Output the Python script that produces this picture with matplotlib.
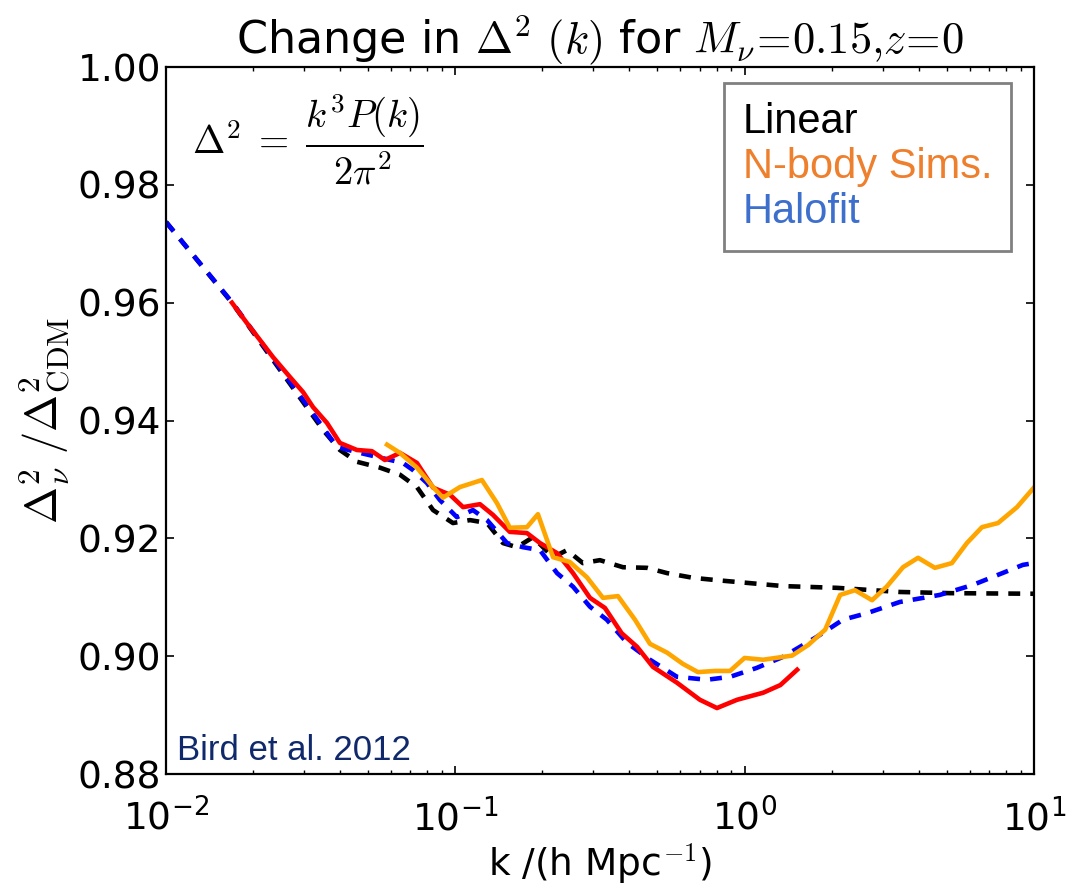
import math
import matplotlib
matplotlib.use("Agg")
import matplotlib.pyplot as plt
from matplotlib.ticker import FixedLocator, FuncFormatter, LogLocator, NullFormatter

plt.rcParams["mathtext.fontset"] = "cm"
plt.rcParams["font.family"] = "DejaVu Sans"

# Linear theory ratio
k_lin = [0.01, 0.0169, 0.0349, 0.0399, 0.0457, 0.0549, 0.0644, 0.0737, 0.0838,
         0.0982, 0.1124, 0.1288, 0.1462, 0.1634, 0.1857, 0.2178, 0.2433, 0.2762,
         0.3162, 0.380, 0.460, 0.540, 0.664, 0.803, 1.045, 1.36, 2.09, 3.44,
         5.13, 10.0]
r_lin = [0.9737, 0.9600, 0.9384, 0.9350, 0.9330, 0.9320, 0.9308, 0.9287, 0.9248,
         0.9226, 0.9231, 0.9226, 0.9192, 0.9185, 0.9202, 0.9168, 0.9180, 0.9158,
         0.9163, 0.9151, 0.9150, 0.9141, 0.9133, 0.9129, 0.9124, 0.9119, 0.9116,
         0.9109, 0.9107, 0.9106]

# Halofit ratio
k_hf = [0.01, 0.0169, 0.0340, 0.0390, 0.0469, 0.0562, 0.0659, 0.0714, 0.0798,
        0.0885, 0.1013, 0.1151, 0.1288, 0.1510, 0.1714, 0.1963, 0.2248, 0.2553,
        0.2922, 0.334, 0.392, 0.471, 0.584, 0.741, 0.891, 1.10, 1.36, 1.78,
        2.19, 2.65, 3.44, 4.73, 6.16, 9.17, 10.0]
r_hf = [0.9737, 0.9601, 0.9396, 0.9355, 0.9345, 0.9336, 0.9328, 0.9316, 0.9294,
        0.9265, 0.9236, 0.9248, 0.9231, 0.9192, 0.9185, 0.9180, 0.9141, 0.9118,
        0.9084, 0.9062, 0.9023, 0.8994, 0.8965, 0.8960, 0.8965, 0.8980, 0.8999,
        0.9033, 0.9062, 0.9073, 0.9092, 0.9104, 0.9121, 0.9155, 0.9158]

# Simulation ratio (red)
k_sim1 = [0.0169, 0.0190, 0.0211, 0.0234, 0.0268, 0.0298, 0.0322, 0.0360, 0.0399,
          0.0457, 0.0515, 0.0571, 0.0644, 0.0737, 0.0838, 0.0959, 0.1064, 0.1217,
          0.1349, 0.1544, 0.1769, 0.1963, 0.2248, 0.2553, 0.2922, 0.329, 0.376,
          0.425, 0.482, 0.584, 0.701, 0.803, 0.942, 1.16, 1.33, 1.52]
r_sim1 = [0.9600, 0.9566, 0.9537, 0.9508, 0.9474, 0.9448, 0.9423, 0.9396, 0.9362,
          0.9350, 0.9348, 0.9333, 0.9345, 0.9328, 0.9286, 0.9274, 0.9253, 0.9258,
          0.9240, 0.9211, 0.9209, 0.9192, 0.9175, 0.9141, 0.9099, 0.9082, 0.9039,
          0.9016, 0.8982, 0.8955, 0.8926, 0.8912, 0.8926, 0.8938, 0.8951, 0.8977]

# Simulation ratio (orange)
k_sim2 = [0.0581, 0.0644, 0.0737, 0.0838, 0.0906, 0.1037, 0.1236, 0.1393, 0.1544,
          0.1769, 0.1931, 0.2178, 0.2487, 0.2851, 0.324, 0.365, 0.418, 0.471,
          0.540, 0.612, 0.690, 0.791, 0.891, 1.00, 1.16, 1.46, 1.66, 1.90, 2.14,
          2.41, 2.76, 3.10, 3.53, 3.98, 4.55, 5.21, 5.87, 6.62, 7.52, 8.75, 10.0]
r_sim2 = [0.9359, 0.9345, 0.9320, 0.9287, 0.9269, 0.9287, 0.9299, 0.9260, 0.9218,
          0.9219, 0.9241, 0.9168, 0.9160, 0.9134, 0.9099, 0.9102, 0.9062, 0.9021,
          0.9006, 0.8987, 0.8973, 0.8975, 0.8975, 0.8997, 0.8994, 0.9001, 0.9019,
          0.9045, 0.9104, 0.9112, 0.9095, 0.9118, 0.9151, 0.9167, 0.9150, 0.9158,
          0.9192, 0.9219, 0.9226, 0.9253, 0.9286]

y_ticks = [0.88, 0.90, 0.92, 0.94, 0.96, 0.98, 1.00]
legend_labels = ["Linear", "N-body Sims.", "Halofit"]
legend_colors = ["black", "#ee7f2d", "#3d6fcc"]

fig = plt.figure(figsize=(10.78, 8.9), dpi=100)
ax = fig.add_axes([0.154, 0.1303, 0.805, 0.7944])

lw = 3.3
ax.plot(k_lin, r_lin, color="k", lw=lw, dashes=(2.6, 2.2))
ax.plot(k_hf, r_hf, color="b", lw=lw, dashes=(2.6, 2.2))
ax.plot(k_sim1, r_sim1, color="r", lw=lw)
ax.plot(k_sim2, r_sim2, color="orange", lw=lw)

ax.set_xscale("log")
ax.set_xlim(0.01, 10)
ax.set_ylim(0.88, 1.00)
ax.yaxis.set_major_locator(FixedLocator(y_ticks))
ax.yaxis.set_major_formatter(FuncFormatter(lambda v, p: "%.2f" % v))
ax.xaxis.set_major_locator(LogLocator(base=10))
ax.xaxis.set_minor_locator(LogLocator(base=10, subs=range(2, 10)))
ax.xaxis.set_minor_formatter(NullFormatter())
ax.xaxis.set_major_formatter(
    FuncFormatter(lambda v, p: r"$\mathregular{10^{%d}}$" % round(math.log10(v))))

ax.tick_params(which="both", direction="in", top=True, right=True, labelsize=27)
ax.tick_params(which="major", length=6, width=1.2)
ax.tick_params(which="minor", length=3, width=1.0)
ax.tick_params(axis="x", pad=18)
for s in ax.spines.values():
    s.set_linewidth(1.6)

ax.set_title(r"Change in $\Delta^2$ $(k)$ for $M_\nu\!=\!0.15{,}z\!=\!0$",
             fontsize=32, pad=8)
ax.set_xlabel(r"k /(h Mpc$^{-1}$)", fontsize=27, labelpad=2)
ax.set_ylabel(r"$\Delta^2_\nu\ /\Delta^2_{\rm CDM}$", fontsize=32, labelpad=4)

ax.text(0.03, 0.965, r"$\Delta^2\;=\;\dfrac{k^3P(k)}{2\pi^2}$", transform=ax.transAxes,
        fontsize=28, va="top", ha="left")
ax.text(0.013, 0.01, "Bird et al. 2012", transform=ax.transAxes,
        fontsize=25, color="#10296b", family="Liberation Sans", va="bottom")

handles = [plt.Line2D([], [], lw=0) for _ in range(3)]
leg = ax.legend(handles, legend_labels, loc="upper right",
                handlelength=0, handletextpad=0, fancybox=False, framealpha=1,
                prop={"family": "Liberation Sans", "size": 30},
                borderpad=0.45, labelspacing=0.12, borderaxespad=0,
                bbox_to_anchor=(0.9735, 0.977))
leg.get_frame().set_edgecolor("#808080")
leg.get_frame().set_linewidth(2)
for t, c in zip(leg.get_texts(), legend_colors):
    t.set_color(c)

fig.savefig("out.png", dpi=100)
